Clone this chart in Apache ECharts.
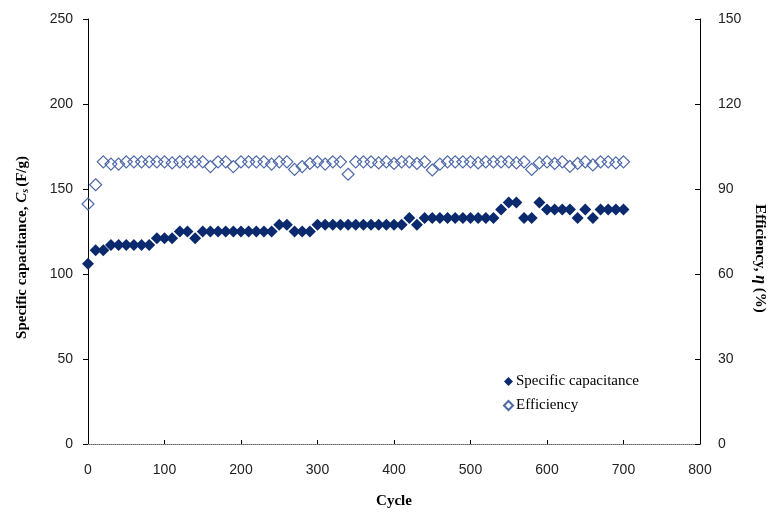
<!DOCTYPE html>
<html>
<head>
<meta charset="utf-8">
<script src="https://cdn.jsdelivr.net/npm/echarts@6/dist/echarts.min.js"></script>
<style>html,body{margin:0;padding:0;background:#fff}#c{width:782px;height:521px}</style>
</head>
<body>
<div id="c"></div>
<script>
var cycles = [0,10,20,30,40,50,60,70,80,90,100,110,120,130,140,150,160,170,180,190,200,210,220,230,240,250,260,270,280,290,300,310,320,330,340,350,360,370,380,390,400,410,420,430,440,450,460,470,480,490,500,510,520,530,540,550,560,570,580,590,600,610,620,630,640,650,660,670,680,690,700];
var capacitance = [106,114,114,117,117,117,117,117,117,121,121,121,125,125,121,125,125,125,125,125,125,125,125,125,125,129,129,125,125,125,129,129,129,129,129,129,129,129,129,129,129,129,133,129,133,133,133,133,133,133,133,133,133,133,138,142,142,133,133,142,138,138,138,138,133,138,133,138,138,138,138];
var efficiency = [84.7,91.5,99.6,98.8,98.8,99.6,99.6,99.6,99.6,99.6,99.6,99.2,99.6,99.6,99.6,99.6,97.9,99.6,99.6,97.9,99.6,99.6,99.6,99.6,98.8,99.6,99.6,96.9,97.9,99.0,99.6,98.8,99.6,99.6,95.2,99.6,99.6,99.6,99.2,99.6,99.0,99.6,99.6,99.0,99.6,96.7,98.8,99.6,99.6,99.6,99.6,99.2,99.6,99.6,99.6,99.6,99.2,99.6,96.9,99.2,99.6,99.0,99.6,98.0,99.0,99.6,98.5,99.6,99.6,99.2,99.6];
var leftTicks = [0,50,100,150,200,250];
var rightTicks = [0,30,60,90,120,150];

function pairs(xs, ys){ return xs.map(function(x,i){ return [x, ys[i]]; }); }

var chart = echarts.init(document.getElementById('c'));
var serif = '"Liberation Serif","Times New Roman",serif';
var sans = '"Liberation Sans",Arial,sans-serif';
chart.setOption({
  animation: false,
  backgroundColor: '#fff',
  grid: {left: 88, right: 82, top: 19, bottom: 77, containLabel: false},
  legend: {
    orient: 'vertical', left: 498, top: 369, itemGap: 9, itemWidth: 9, itemHeight: 9,
    textStyle: {fontFamily: serif, fontSize: 15, color: '#000', padding: [0, 0, 0, -2]},
    data: [{name: 'Specific capacitance', icon: 'diamond'}, {name: 'Efficiency', icon: 'diamond'}]
  },
  xAxis: [{
    type: 'value', min: 0, max: 800, interval: 100,
    name: 'Cycle', nameLocation: 'middle', nameGap: 50,
    nameTextStyle: {fontFamily: serif, fontSize: 15, fontWeight: 'bold', color: '#000'},
    axisLine: {show: true, onZero: false, lineStyle: {color: '#000', width: 1}},
    axisTick: {show: true, inside: true, length: 4, lineStyle: {color: '#000'}},
    axisLabel: {fontFamily: sans, fontSize: 14, color: '#222', margin: 19},
    splitLine: {show: false}
  }, {
    type: 'value', min: 0, max: 800, position: 'top',
    axisLine: {show: true, lineStyle: {color: '#999', width: 1, type: 'dotted'}},
    axisTick: {show: false}, axisLabel: {show: false}, splitLine: {show: false}
  }],
  yAxis: [{
    type: 'value', min: 0, max: 250, interval: 50, position: 'left',
    name: '{n|Specific capacitance, }{i|C}{s|s}{n|(F/g)}', nameLocation: 'middle', nameGap: 58,
    nameTextStyle: {
      padding: [0, 32, 0, 0],
      rich: {
        n: {fontFamily: serif, fontSize: 15, fontWeight: 'bold', color: '#000'},
        i: {fontFamily: serif, fontSize: 15, fontWeight: 'bold', fontStyle: 'italic', color: '#000'},
        s: {fontFamily: serif, fontSize: 10, fontWeight: 'bold', fontStyle: 'italic', color: '#000', verticalAlign: 'bottom', padding: [6, 2, 0, 0]}
      }
    },
    axisLine: {show: true, onZero: false, lineStyle: {color: '#000', width: 1}},
    axisTick: {show: true, inside: false, length: 5, lineStyle: {color: '#000'}},
    axisLabel: {fontFamily: sans, fontSize: 14, color: '#222', margin: 15},
    splitLine: {show: false}
  }, {
    type: 'value', min: 0, max: 150, interval: 30, position: 'right',
    name: '{n|Efficiency, }{i|η}{n| (%)}', nameLocation: 'middle', nameGap: 52, nameRotate: -90,
    nameTextStyle: {
      padding: [0, 0, 0, 54],
      rich: {
        n: {fontFamily: serif, fontSize: 15, fontWeight: 'bold', color: '#000'},
        i: {fontFamily: serif, fontSize: 16, fontWeight: 'bold', fontStyle: 'italic', color: '#000'}
      }
    },
    axisLine: {show: true, onZero: false, lineStyle: {color: '#000', width: 1}},
    axisTick: {show: true, inside: true, length: 5, lineStyle: {color: '#000'}},
    axisLabel: {fontFamily: sans, fontSize: 14, color: '#222', margin: 18},
    splitLine: {show: false}
  }],
  series: [{
    name: 'Specific capacitance', type: 'scatter', xAxisIndex: 0, yAxisIndex: 0,
    symbol: 'diamond', symbolSize: 12,
    itemStyle: {color: '#0b2a6e', opacity: 1},
    data: pairs(cycles, capacitance), z: 3
  }, {
    name: 'Efficiency', type: 'scatter', xAxisIndex: 0, yAxisIndex: 1,
    symbol: 'diamond', symbolSize: 12,
    itemStyle: {color: 'rgba(255,255,255,0)', borderColor: '#4d68a8', borderWidth: 1.2, opacity: 1},
    data: pairs(cycles, efficiency), z: 2
  }]
});
</script>
</body>
</html>
